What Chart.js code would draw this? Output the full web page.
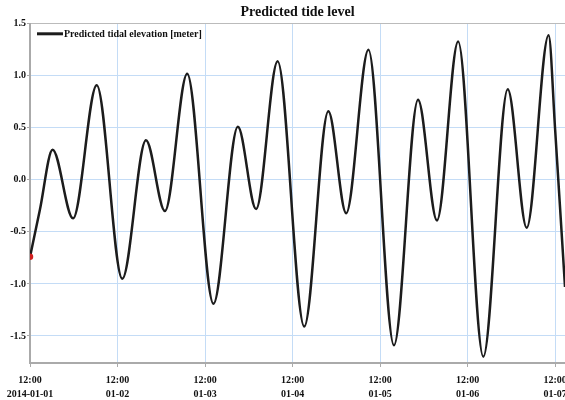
<!DOCTYPE html>
<html>
<head>
  <title>Predicted tide level</title>
  <script src="https://cdn.jsdelivr.net/npm/chart.js"></script>
  <style>
    body { margin: 0; background: #fff; }
    #wrap { width: 565px; height: 400px; }
  </style>
</head>
<body>
  <div id="wrap"><canvas id="tide"></canvas></div>

  <script>
    // hours after 2014-01-01 12:00 (highs, lows, a few in between)
    const tideHours = [0, 2.7, 6.2, 11.8, 18.3, 25.3, 31.8, 37.0, 43.1, 50.3, 57.0, 62.0, 67.9, 75.2,
                       81.8, 86.7, 92.8, 99.8, 106.4, 111.6, 117.4, 124.3, 131.0, 136.2, 142.2, 144.0, 146.7];
    const tideLevels = [-0.74, -0.29, 0.29, -0.37, 0.91, -0.95, 0.38, -0.30, 1.02, -1.19, 0.51, -0.28, 1.14, -1.41,
                        0.66, -0.32, 1.25, -1.59, 0.77, -0.39, 1.33, -1.70, 0.87, -0.46, 1.39, 0.48, -1.03];
    const dayLabels = ['2014-01-01', '01-02', '01-03', '01-04', '01-05', '01-06', '01-07'];
    const seriesName = 'Predicted tidal elevation [meter]';

    const serif = "'Liberation Serif', 'DejaVu Serif', serif";
    const gridBlue = '#c4dcf6';

    // legend sits inside the plot, top-left
    const insideLegend = {
      id: 'insideLegend',
      afterDatasetsDraw(chart) {
        const { ctx, chartArea } = chart;
        const ds = chart.data.datasets[0];
        const y = chartArea.top + 10;
        ctx.save();
        ctx.strokeStyle = ds.borderColor;
        ctx.lineWidth = 3;
        ctx.beginPath();
        ctx.moveTo(chartArea.left + 7, y);
        ctx.lineTo(chartArea.left + 33, y);
        ctx.stroke();
        ctx.fillStyle = '#111';
        ctx.font = 'bold 10px ' + serif;
        ctx.textBaseline = 'middle';
        ctx.fillText(ds.label, chartArea.left + 34, y + 1);
        ctx.restore();
      }
    };

    const points = tideHours.map((h, i) => ({ x: h, y: tideLevels[i] }));

    new Chart(document.getElementById('tide'), {
      type: 'line',
      data: {
        datasets: [{
          label: seriesName,
          data: points,
          borderColor: '#1c1c1c',
          borderWidth: 2.5,
          cubicInterpolationMode: 'monotone',
          pointRadius: ctx => ctx.dataIndex === 0 ? 2 : 0,
          pointBackgroundColor: '#d02020',
          pointBorderColor: '#d02020',
          fill: false
        }]
      },
      options: {
        responsive: true,
        maintainAspectRatio: false,
        animation: false,
        layout: { padding: 0, autoPadding: false },
        plugins: {
          legend: { display: false },
          tooltip: { enabled: false },
          title: {
            display: true,
            text: 'Predicted tide level',
            fullSize: false,
            color: '#111',
            font: { family: serif, size: 14, weight: 'bold' },
            padding: { top: 4, bottom: 3 }
          }
        },
        scales: {
          x: {
            type: 'linear',
            min: 0,
            max: 146.7,
            afterFit: s => { s.height = 37; s.paddingLeft = 0; s.paddingRight = 0; },
            grid: { color: gridBlue, tickColor: '#aaa', tickLength: 4 },
            border: { color: '#aaa', width: 2 },
            ticks: {
              stepSize: 24,
              includeBounds: false,
              autoSkip: false,
              maxRotation: 0,
              padding: 6,
              color: '#111',
              font: { family: serif, size: 10, weight: 'bold', lineHeight: 1.4 },
              callback: v => ['12:00', dayLabels[Math.round(v / 24)]]
            }
          },
          y: {
            min: -1.76,
            max: 1.5,
            afterFit: s => { s.width = 30; s.paddingTop = 0; s.paddingBottom = 0; },
            grid: {
              color: c => c.tick && c.tick.value === 1.5 ? '#bbb' : gridBlue,
              tickColor: '#aaa',
              tickLength: 3
            },
            border: { color: '#aaa', width: 2 },
            ticks: {
              stepSize: 0.5,
              includeBounds: false,
              padding: 1,
              color: '#111',
              font: { family: serif, size: 10, weight: 'bold' },
              callback: v => v.toFixed(1)
            }
          }
        }
      },
      plugins: [insideLegend]
    });
  </script>
</body>
</html>
